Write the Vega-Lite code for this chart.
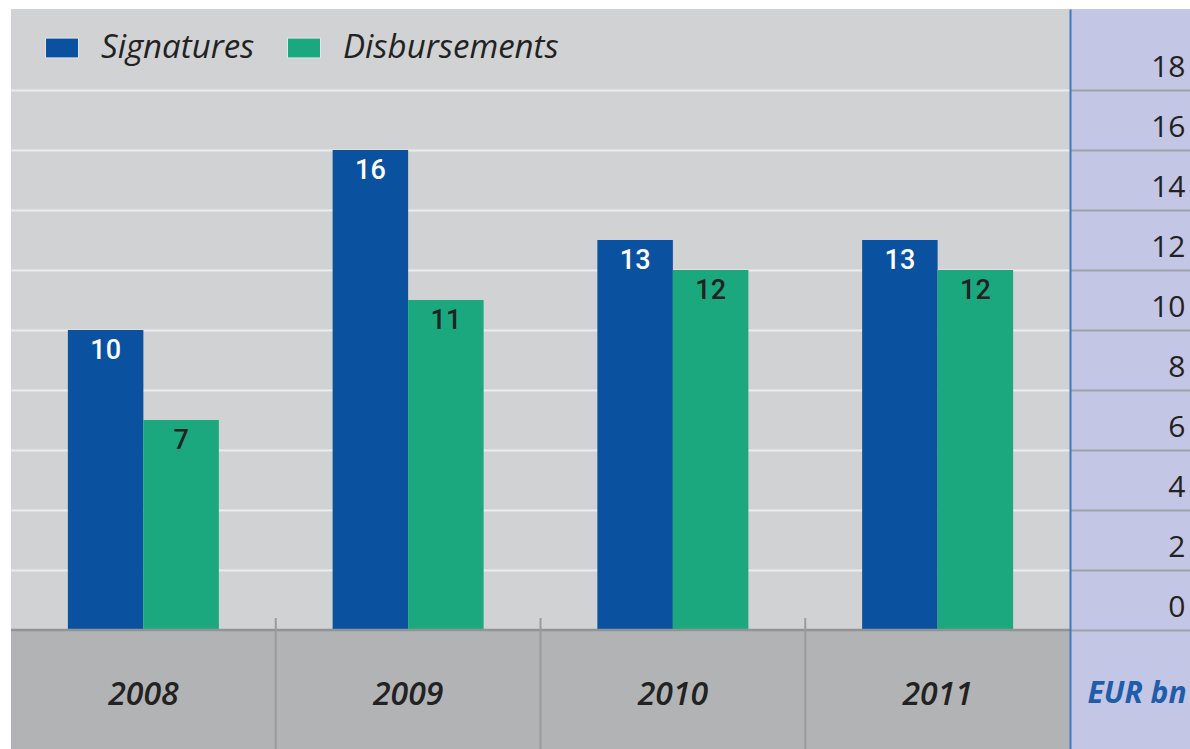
{
  "$schema": "https://vega.github.io/schema/vega-lite/v6.json",
  "background": "white",
  "padding": {"left": 9, "top": 9, "right": 0, "bottom": 0},
  "spacing": 0,
  "bounds": "flush",
  "config": {"view": {"stroke": null}, "font": "Open Sans"},
  "datasets": {
    "main": [
      {"year": "2008", "series": "Signatures", "value": 10},
      {"year": "2008", "series": "Disbursements", "value": 7},
      {"year": "2009", "series": "Signatures", "value": 16},
      {"year": "2009", "series": "Disbursements", "value": 11},
      {"year": "2010", "series": "Signatures", "value": 13},
      {"year": "2010", "series": "Disbursements", "value": 12},
      {"year": "2011", "series": "Signatures", "value": 13},
      {"year": "2011", "series": "Disbursements", "value": 12}
    ]
  },
  "hconcat": [
    {
      "width": 1059,
      "height": 740,
      "view": {"fill": "#d1d2d4", "stroke": null},
      "data": {"name": "main"},
      "layer": [
        {
          "mark": {"type": "bar"},
          "encoding": {
            "x": {"field": "year", "type": "nominal", "scale": {"paddingInner": 0, "paddingOuter": 0}, "axis": null},
            "xOffset": {"field": "series", "type": "nominal", "scale": {"domain": ["Signatures", "Disbursements"], "paddingInner": 0, "paddingOuter": 0.7533}},
            "y": {"field": "value", "type": "quantitative", "scale": {"domain": [-3.967, 20.7], "nice": false, "zero": false},
              "axis": {"values": [2, 4, 6, 8, 10, 12, 14, 16, 18], "grid": true, "gridColor": "#ececec", "gridWidth": 2, "labels": false, "ticks": false, "domain": false, "title": null}},
            "y2": {"datum": 0},
            "color": {"field": "series", "type": "nominal",
              "scale": {"domain": ["Signatures", "Disbursements"], "range": ["#0a529f", "#1ba87f"]},
              "legend": {"title": null, "orient": "none", "legendX": 34, "legendY": 22, "direction": "horizontal",
                "symbolType": "M-1,-0.6L1,-0.6L1,0.6L-1,0.6Z", "symbolSize": 1089, "symbolStrokeColor": "#e4e5e6", "symbolStrokeWidth": 1, "symbolOpacity": 1,
                "labelFont": "Open Sans", "labelFontStyle": "italic", "labelFontSize": 33, "labelColor": "#222222", "labelOffset": 22, "labelLimit": 0, "columnPadding": 30, "padding": 0}}
          }
        },
        {
          "transform": [{"filter": "datum.series === 'Signatures'"}],
          "mark": {"type": "text", "baseline": "alphabetic", "dy": 29, "font": "Roboto", "fontWeight": 500, "fontSize": 27, "color": "white"},
          "encoding": {
            "x": {"field": "year", "type": "nominal", "axis": null},
            "xOffset": {"field": "series", "type": "nominal"},
            "y": {"field": "value", "type": "quantitative",
              "axis": {"values": [2, 4, 6, 8, 10, 12, 14, 16, 18], "grid": true, "gridColor": "#ececec", "gridWidth": 2, "labels": false, "ticks": false, "domain": false, "title": null}},
            "text": {"field": "value", "type": "quantitative"}
          }
        },
        {
          "transform": [{"filter": "datum.series === 'Disbursements'"}],
          "mark": {"type": "text", "baseline": "alphabetic", "dy": 29, "font": "Roboto", "fontWeight": 500, "fontSize": 27, "color": "#222222"},
          "encoding": {
            "x": {"field": "year", "type": "nominal", "axis": null},
            "xOffset": {"field": "series", "type": "nominal"},
            "y": {"field": "value", "type": "quantitative",
              "axis": {"values": [2, 4, 6, 8, 10, 12, 14, 16, 18], "grid": true, "gridColor": "#ececec", "gridWidth": 2, "labels": false, "ticks": false, "domain": false, "title": null}},
            "text": {"field": "value", "type": "quantitative"}
          }
        },
        {
          "data": {"values": [{"band": "axis"}]},
          "mark": {"type": "rect", "color": "#b2b3b5"},
          "encoding": {
            "y": {"datum": 0, "type": "quantitative",
              "axis": {"values": [2, 4, 6, 8, 10, 12, 14, 16, 18], "grid": true, "gridColor": "#ececec", "gridWidth": 2, "labels": false, "ticks": false, "domain": false, "title": null}},
            "y2": {"datum": -3.967}
          }
        },
        {
          "data": {"values": [{"baseline": 0}]},
          "mark": {"type": "rule", "color": "#929395", "strokeWidth": 2.5},
          "encoding": {
            "y": {"field": "baseline", "type": "quantitative",
              "axis": {"values": [2, 4, 6, 8, 10, 12, 14, 16, 18], "grid": true, "gridColor": "#ececec", "gridWidth": 2, "labels": false, "ticks": false, "domain": false, "title": null}}
          }
        },
        {
          "transform": [{"filter": "datum.series === 'Signatures' && datum.year !== '2011'"}],
          "mark": {"type": "rule", "color": "#9a9b9d", "strokeWidth": 2},
          "encoding": {
            "x": {"field": "year", "type": "nominal", "bandPosition": 1, "axis": null},
            "y": {"datum": 0.4, "type": "quantitative",
              "axis": {"values": [2, 4, 6, 8, 10, 12, 14, 16, 18], "grid": true, "gridColor": "#ececec", "gridWidth": 2, "labels": false, "ticks": false, "domain": false, "title": null}},
            "y2": {"datum": -3.967}
          }
        },
        {
          "transform": [{"filter": "datum.series === 'Signatures'"}],
          "mark": {"type": "text", "baseline": "alphabetic", "font": "Open Sans", "fontStyle": "italic", "fontWeight": 600, "fontSize": 32, "color": "#222222"},
          "encoding": {
            "x": {"field": "year", "type": "nominal", "axis": null},
            "y": {"datum": -2.5, "type": "quantitative",
              "axis": {"values": [2, 4, 6, 8, 10, 12, 14, 16, 18], "grid": true, "gridColor": "#ececec", "gridWidth": 2, "labels": false, "ticks": false, "domain": false, "title": null}},
            "text": {"field": "year", "type": "nominal"}
          }
        }
      ]
    },
    {
      "width": 122,
      "height": 740,
      "view": {"fill": "#c4c6e5", "stroke": null},
      "data": {"values": [{"unit": "EUR bn"}]},
      "mark": {"type": "text", "font": "Open Sans", "fontStyle": "italic", "fontWeight": "bold", "fontSize": 30, "color": "#1f5dab", "baseline": "alphabetic", "align": "center", "dx": 6},
      "encoding": {
        "text": {"field": "unit", "type": "nominal"},
        "y": {"datum": -2.45, "type": "quantitative",
          "scale": {"domain": [-3.967, 20.7], "nice": false, "zero": false},
          "axis": {"orient": "left", "values": [0, 2, 4, 6, 8, 10, 12, 14, 16, 18], "grid": false,
            "domain": true, "domainColor": "#3c7bc3", "domainWidth": 2, "domainCap": "butt",
            "ticks": true, "tickSize": -122, "tickColor": "#9ea0a8", "tickWidth": 2,
            "labels": true, "labelAlign": "right", "labelBaseline": "alphabetic", "labelOffset": -13, "labelPadding": 7,
            "labelFont": "Open Sans", "labelFontSize": 30, "labelFontWeight": 500, "labelColor": "#222222", "labelFlush": false, "labelOverlap": false,
            "title": null, "minExtent": 0, "maxExtent": 0}}
      }
    }
  ]
}
